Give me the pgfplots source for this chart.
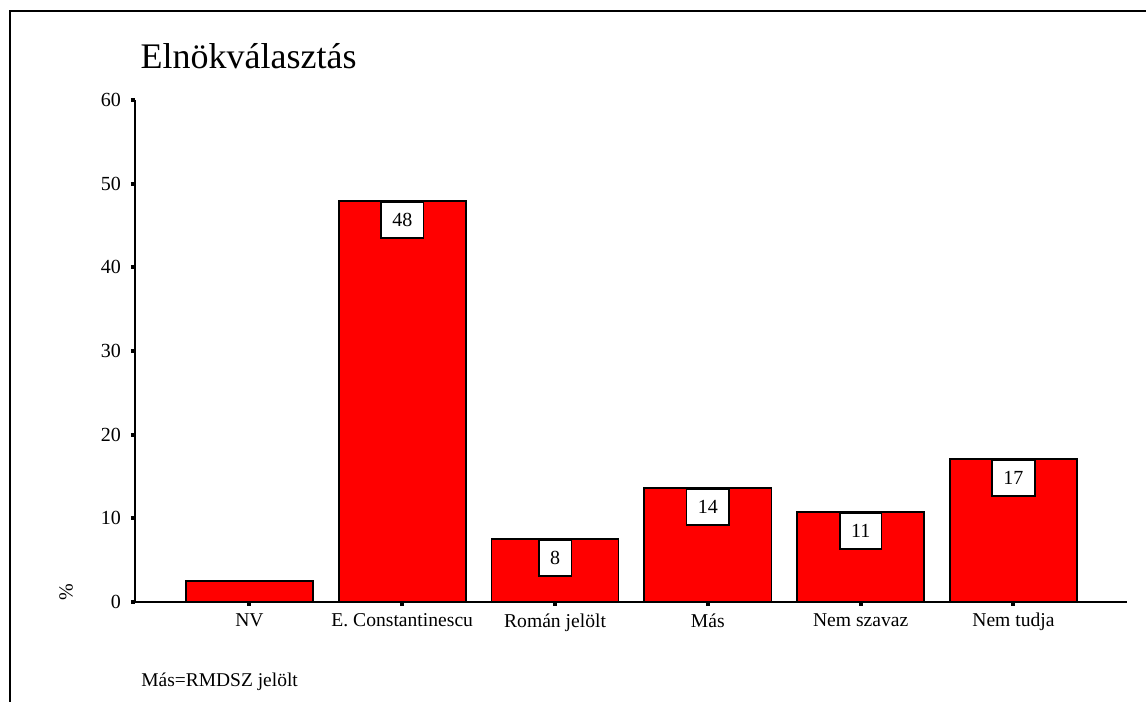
\documentclass[border=0pt]{standalone}
\usepackage{fontspec}
\setmainfont{Liberation Serif}
\usepackage{pgfplots}
\pgfplotsset{compat=1.18}
\definecolor{barred}{HTML}{FF0000}

\begin{document}
\begin{tikzpicture}
\useasboundingbox (0,0) rectangle (859.5pt,526.5pt);
% partial frame (top and left)
\draw[line width=1pt] (7.5pt,0) -- (7.5pt,518.25pt) -- (859.5pt,518.25pt);
\node[anchor=base west, font=\fontsize{27}{30}\selectfont] at (102pt,474.75pt) {Elnökválasztás};
\node[anchor=base west, font=\fontsize{14.6}{17}\selectfont] at (102.5pt,11.5pt) {Más=RMDSZ jelölt};

\begin{axis}[
    at={(101.25pt,75pt)}, anchor=south west,
    scale only axis, width=744pt, height=376.5pt,
    ybar, bar width=95.25pt, bar shift=0pt,
    xmin=-0.749, xmax=5.743, ymin=0, ymax=60,
    axis lines=left, axis line style={line width=1.3pt, -},
    xtick=data,
    xticklabels={NV, E. Constantinescu, Román jelölt, Más, Nem szavaz, Nem tudja},
    ytick={0,10,...,60},
    tick align=outside, major tick length=3pt,
    tick style={line width=3pt, black},
    /pgf/number format/assume math mode=true,
    xticklabel style={font=\fontsize{14.7}{17}\selectfont, yshift=-2pt},
    yticklabel style={font=\fontsize{15}{17}\selectfont, xshift=-4pt},
    ylabel={\%},
    ylabel style={at={(axis description cs:-0.0695,0.02)}, anchor=center, font=\fontsize{15}{17}\selectfont},
    clip=false,
]
\addplot[fill=barred, draw=black, line width=1.3pt] coordinates {
    (0,2.5) (1,47.9) (2,7.5) (3,13.6) (4,10.75) (5,17.1)
};
\addplot[draw=none, fill=none,
    point meta=explicit symbolic,
    nodes near coords,
    every node near coord/.append style={anchor=north, fill=white, draw=black,
        line width=1.2pt, font=\fontsize{15}{17}\selectfont,
        minimum height=27pt, inner xsep=8.5pt, yshift=0pt},
] coordinates {
    (1,47.9) [48] (2,7.5) [8] (3,13.6) [14] (4,10.75) [11] (5,17.1) [17]
};
\end{axis}
\end{tikzpicture}
\end{document}
